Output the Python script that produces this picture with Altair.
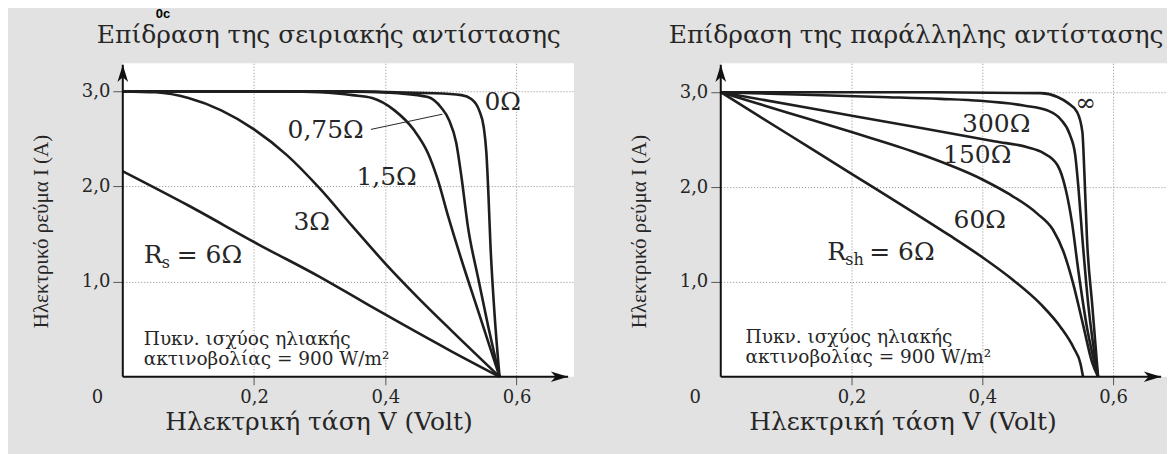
import altair as alt
import pandas as pd

SERIF = "DejaVu Serif"
INK = "#262626"
BG = "#e2e2e2"

# ---------------- Left panel: series resistance ----------------
RS_NAMES = ["0Ω", "0,75Ω", "1,5Ω", "3Ω", "6Ω"]
RS_V = [
    [0.0, 0.30, 0.475, 0.516, 0.531, 0.543, 0.550, 0.554, 0.557, 0.560, 0.566, 0.574],
    [0.0, 0.35, 0.42, 0.465, 0.485, 0.497, 0.508, 0.516, 0.526, 0.541, 0.557, 0.574],
    [0.0, 0.25, 0.30, 0.35, 0.38, 0.414, 0.444, 0.465, 0.48, 0.496, 0.516, 0.541, 0.574],
    [0.0, 0.05, 0.10, 0.15, 0.20, 0.25, 0.30, 0.35, 0.40, 0.45, 0.50, 0.574],
    [0.0, 0.10, 0.207, 0.30, 0.363, 0.424, 0.50, 0.574],
]
RS_I = [
    [3.0, 3.0, 2.98, 2.96, 2.92, 2.80, 2.62, 2.35, 1.93, 1.41, 0.70, 0.0],
    [3.0, 3.0, 2.98, 2.94, 2.83, 2.70, 2.46, 2.10, 1.57, 1.05, 0.52, 0.0],
    [3.0, 3.0, 2.99, 2.96, 2.93, 2.80, 2.59, 2.35, 2.07, 1.68, 1.23, 0.70, 0.0],
    [3.0, 2.99, 2.93, 2.80, 2.60, 2.33, 1.98, 1.58, 1.19, 0.83, 0.49, 0.0],
    [2.16, 1.80, 1.39, 1.05, 0.80, 0.56, 0.27, 0.0],
]
RS_LABELS = ["0Ω", "0,75Ω", "1,5Ω", "3Ω"]
RS_LABEL_V = [0.551, 0.251, 0.356, 0.260]
RS_LABEL_I = [2.89, 2.59, 2.10, 1.63]
RS_LEADER_V = [0.378, 0.487]
RS_LEADER_I = [2.60, 2.76]
RS_R_POS = [0.032, 1.28]

# ---------------- Right panel: shunt resistance ----------------
RSH_NAMES = ["∞", "300Ω", "150Ω", "60Ω", "6Ω"]
RSH_V = [
    [0.0, 0.30, 0.489, 0.515, 0.53, 0.545, 0.553, 0.556, 0.560, 0.568, 0.577],
    [0.0, 0.244, 0.336, 0.397, 0.463, 0.499, 0.519, 0.534, 0.542, 0.547, 0.553, 0.562, 0.577],
    [0.0, 0.15, 0.30, 0.42, 0.469, 0.493, 0.515, 0.527, 0.537, 0.547, 0.560, 0.577],
    [0.0, 0.10, 0.20, 0.30, 0.40, 0.44, 0.484, 0.508, 0.524, 0.539, 0.554, 0.568, 0.577],
    [0.0, 0.10, 0.20, 0.30, 0.35, 0.40, 0.447, 0.49, 0.52, 0.54, 0.55, 0.554],
]
RSH_I = [
    [3.0, 3.0, 2.99, 2.95, 2.89, 2.79, 2.58, 2.16, 1.46, 0.76, 0.0],
    [3.0, 2.95, 2.93, 2.91, 2.86, 2.81, 2.72, 2.55, 2.34, 1.99, 1.46, 0.76, 0.0],
    [3.0, 2.815, 2.63, 2.48, 2.42, 2.36, 2.23, 1.99, 1.63, 1.11, 0.52, 0.0],
    [3.0, 2.79, 2.58, 2.36, 2.08, 1.93, 1.72, 1.55, 1.32, 0.98, 0.55, 0.15, 0.0],
    [3.0, 2.57, 2.14, 1.71, 1.49, 1.26, 1.02, 0.76, 0.52, 0.30, 0.14, 0.0],
]
RSH_LABELS = ["∞", "300Ω", "150Ω", "60Ω"]
RSH_LABEL_V = [0.542, 0.369, 0.340, 0.356]
RSH_LABEL_I = [2.89, 2.67, 2.34, 1.65]
RSH_R_POS = [0.163, 1.32]

NOTE_TEXT = "Πυκν. ισχύος ηλιακής\nακτινοβολίας = 900 W/m²"
LEFT_NOTE_POS = [0.032, 0.40]
RIGHT_NOTE_POS = [0.038, 0.42]

X_TICKS = [0, 0.2, 0.4, 0.6]
Y_TICKS = [1, 2, 3]


def curves_df(names, vs, iss):
    rows = []
    for n, v, i in zip(names, vs, iss):
        for a, b in zip(v, i):
            rows.append({"curve": n, "V": a, "I": b})
    return pd.DataFrame(rows)


def panel(df, lab_names, lab_v, lab_i, r_pos, sub, note_pos, x_max, y_max,
          width, height, title, title_dx, xtitle_x, leader=None):
    xs = alt.Scale(domain=[0, x_max], nice=False, zero=False)
    ys = alt.Scale(domain=[0, y_max], nice=False, zero=False)
    cond0 = lambda a, b: {"condition": {"test": "datum.value == 0", "value": a}, "value": b}
    xaxis = alt.Axis(
        values=X_TICKS, title="Ηλεκτρική τάση V (Volt)", domain=False,
        labelExpr="datum.value == 0 ? '0' : replace(format(datum.value, '.1f'), '.', ',')",
        labelOffset=cond0(-26, 0), tickOpacity=cond0(0, 1), gridOpacity=cond0(0, 1),
        grid=True, gridColor="#8c8c8c", gridDash=[1, 2], gridWidth=1,
        tickColor="#555", tickSize=8, tickWidth=1,
        labelFont=SERIF, labelFontSize=18, labelColor=INK, labelPadding=4,
        labelFlush=False, labelOverlap=False,
        titleFont=SERIF, titleFontSize=25, titleFontWeight="normal", titleColor=INK,
        titleX=xtitle_x, titleY=45, titleBaseline="middle", titleAlign="center")
    yaxis = alt.Axis(
        values=Y_TICKS, title="Ηλεκτρικό ρεύμα I (A)", domain=False,
        labelExpr="replace(format(datum.value, '.1f'), '.', ',')",
        grid=True, gridColor="#8c8c8c", gridDash=[1, 2], gridWidth=1,
        tickColor="#555", tickSize=10, tickWidth=1,
        labelFont=SERIF, labelFontSize=18, labelColor=INK, labelPadding=3,
        titleFont="Liberation Serif", titleFontSize=21, titleFontWeight="normal",
        titleColor=INK, titleX=-81, titleY=168, titleBaseline="middle",
        titleAlign="center", titleAngle=270)
    X = lambda: alt.X("V:Q", scale=xs, axis=xaxis)
    Y = lambda: alt.Y("I:Q", scale=ys, axis=yaxis)

    layers = []
    layers.append(alt.Chart(df).mark_line(color="#1e1e1e", strokeWidth=2.6,
                                          interpolate="monotone").encode(
        x=X(), y=Y(), detail="curve:N"))
    # axis lines with arrowheads
    x_arrow = x_max - 0.009
    y_arrow = y_max - 0.015
    ax_df = pd.DataFrame({"V": [0, 0], "I": [0, 0], "V2": [x_arrow, 0], "I2": [0, y_arrow]})
    layers.append(alt.Chart(ax_df).mark_rule(color="#111", strokeWidth=2).encode(
        x=X(), y=Y(), x2="V2:Q", y2="I2:Q"))
    layers.append(alt.Chart(pd.DataFrame({"V": [x_arrow], "I": [0]})).mark_point(
        shape="M0,0L-2,-0.62L-1.45,0L-2,0.62Z", size=300, filled=True, color="#111",
        opacity=1, strokeWidth=0).encode(x=X(), y=Y()))
    layers.append(alt.Chart(pd.DataFrame({"V": [0], "I": [y_arrow]})).mark_point(
        shape="M0,0L-0.62,2L0,1.45L0.62,2Z", size=300, filled=True, color="#111",
        opacity=1, strokeWidth=0).encode(x=X(), y=Y()))
    # curve labels
    lab_df = pd.DataFrame({"V": lab_v, "I": lab_i, "t": lab_names})
    layers.append(alt.Chart(lab_df).mark_text(align="left", baseline="middle", font=SERIF,
                                              fontSize=25, color=INK).encode(
        x=X(), y=Y(), text="t:N"))
    # R_s / R_sh label
    r_df = pd.DataFrame({"V": [r_pos[0]], "I": [r_pos[1]]})
    layers.append(alt.Chart(r_df).mark_text(align="left", baseline="middle", font=SERIF,
                                            fontSize=25, color=INK, text="R").encode(x=X(), y=Y()))
    layers.append(alt.Chart(r_df).mark_text(align="left", baseline="middle", font=SERIF,
                                            fontSize=16, color=INK, text=sub, dx=18, dy=8).encode(x=X(), y=Y()))
    layers.append(alt.Chart(r_df).mark_text(align="left", baseline="middle", font=SERIF,
                                            fontSize=25, color=INK, text="= 6Ω",
                                            dx=19 + 9 * len(sub) + 5).encode(x=X(), y=Y()))
    # note (two lines)
    note_df = pd.DataFrame({"V": [note_pos[0]], "I": [note_pos[1]], "t": [NOTE_TEXT]})
    layers.append(alt.Chart(note_df).mark_text(align="left", baseline="middle", font=SERIF,
                                               fontSize=18.5, color=INK, lineBreak="\n",
                                               lineHeight=20).encode(
        x=X(), y=Y(), text="t:N"))
    if leader is not None:
        ld = pd.DataFrame({"V": [leader[0][0]], "I": [leader[1][0]],
                           "V2": [leader[0][1]], "I2": [leader[1][1]]})
        layers.append(alt.Chart(ld).mark_rule(color=INK, strokeWidth=1).encode(
            x=X(), y=Y(), x2="V2:Q", y2="I2:Q"))
    return alt.layer(*layers).properties(
        width=width, height=height,
        title=alt.TitleParams(title, anchor="start", frame="group", dx=title_dx, offset=-5,
                              font=SERIF, fontSize=25, fontWeight="normal", color=INK,
                              baseline="alphabetic"))


left = panel(curves_df(RS_NAMES, RS_V, RS_I), RS_LABELS, RS_LABEL_V, RS_LABEL_I, RS_R_POS, "s",
             LEFT_NOTE_POS, 0.6875, 3.295, 452, 314,
             "Επίδραση της σειριακής αντίστασης", -26, 196,
             leader=(RS_LEADER_V, RS_LEADER_I))
right = panel(curves_df(RSH_NAMES, RSH_V, RSH_I), RSH_LABELS, RSH_LABEL_V, RSH_LABEL_I, RSH_R_POS,
              "sh", RIGHT_NOTE_POS, 0.6824, 3.305, 447, 314,
              "Επίδραση της παράλληλης αντίστασης", -52, 182)

chart = alt.hconcat(left, right, spacing=147, bounds="flush").properties(
    background=BG, padding={"left": 23, "top": 0, "right": 0, "bottom": 20},
    title=alt.TitleParams("0c", anchor="start", frame="bounds", dx=125, offset=2,
                          font="Liberation Sans", fontSize=13, fontWeight="bold",
                          color="#000")
).configure_view(fill="white", strokeWidth=0)

chart.save("out.html", embed_options={"renderer": "svg", "actions": False})
